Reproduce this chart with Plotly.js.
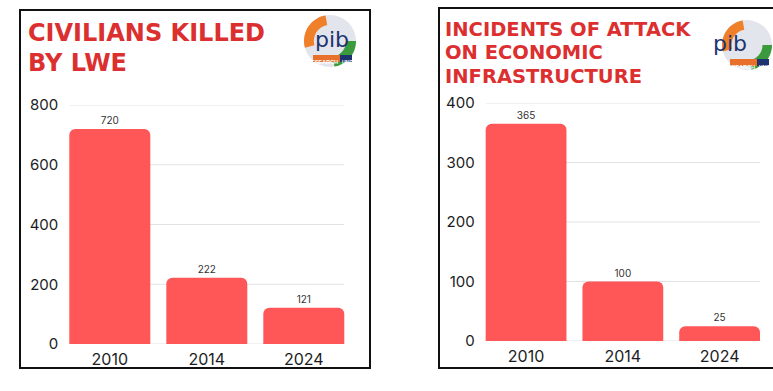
<!DOCTYPE html>
<html><head><meta charset="utf-8">
<script src="https://cdn.plot.ly/plotly-3.0.1.min.js"></script>
<style>html,body{margin:0;padding:0;background:#fff}#chart{width:773px;height:391px}</style>
</head><body><div id="chart"></div>
<script>
const years = ["2010", "2014", "2024"];
const civiliansKilled = [720, 222, 121];
const attackIncidents = [365, 100, 25];
const leftTicks = [0, 200, 400, 600, 800];
const rightTicks = [0, 100, 200, 300, 400];
const leftTitleLines = ["CIVILIANS KILLED", "BY LWE"];
const rightTitleLines = ["INCIDENTS OF ATTACK", "ON ECONOMIC", "INFRASTRUCTURE"];

const W = 773, H = 391;
const px = x => x / W, py = y => 1 - y / H;
const BAR = '#ff5757', RED = '#dc2f2f', INK = '#1c1c24';
const GAP = 0.165;
const tickFont = {family: 'Inter, "Open Sans", sans-serif', size: 15, color: INK};

const traces = [
  {type: 'bar', x: years, y: civiliansKilled, xaxis: 'x', yaxis: 'y',
   marker: {color: BAR}, text: civiliansKilled.map(String), textposition: 'outside',
   textfont: {family: 'Inter, sans-serif', size: 10, color: '#333'}, cliponaxis: false, hoverinfo: 'none'},
  {type: 'bar', x: years, y: attackIncidents, xaxis: 'x2', yaxis: 'y2',
   marker: {color: BAR}, text: attackIncidents.map(String), textposition: 'outside',
   textfont: {family: 'Inter, sans-serif', size: 10, color: '#333'}, cliponaxis: false, hoverinfo: 'none'}
];

function yax(domTop, domBot, ticks, anchor) {
  return {domain: [py(domBot), py(domTop)], range: [0, ticks[ticks.length - 1]], tickvals: ticks, anchor: anchor,
    showgrid: false, zeroline: false, showline: false, ticks: '', tickfont: tickFont,
    ticklabelstandoff: 2, fixedrange: true};
}
function xax(l, r, anchor) {
  return {type: 'category', domain: [px(l), px(r)], anchor: anchor, showgrid: false, zeroline: false, showline: false,
    ticks: '', tickfont: Object.assign({}, tickFont, {size: 16}), ticklabelstandoff: 4, fixedrange: true};
}

const shapes = [
  {type: 'rect', xref: 'paper', yref: 'paper', x0: px(20), x1: px(370), y0: py(368), y1: py(10),
   line: {color: '#111', width: 2}},
  {type: 'rect', xref: 'paper', yref: 'paper', x0: px(439), x1: px(800), y0: py(368), y1: py(8),
   line: {color: '#111', width: 2}}
];
function grid(ticks, xr, yr, n) {
  const half = (1 - GAP) / 2;
  ticks.forEach(v => shapes.push({type: 'line', layer: 'below', xref: xr, yref: yr,
    x0: -half, x1: n - 1 + half, y0: v, y1: v, line: {color: '#e2e2e2', width: 1}}));
}
grid(leftTicks, 'x', 'y', years.length);
grid(rightTicks, 'x2', 'y2', years.length);

const annotations = [];
function titleLines(lines, x, y0, step, size) {
  lines.forEach((t, i) => annotations.push({xref: 'paper', yref: 'paper', x: px(x), y: py(y0 + i * step),
    xanchor: 'left', yanchor: 'middle', showarrow: false, text: t,
    font: {family: '"DejaVu Sans", sans-serif', size: size, color: RED, weight: 700}}));
}
titleLines(leftTitleLines, 26, 33, 30, 24);
titleLines(rightTitleLines, 443, 29, 23.5, 19.5);

function arcPoly(cx, cy, rOut, rIn, a1, a2) {
  const pts = [];
  const n = 24;
  for (let i = 0; i <= n; i++) { const a = (a1 + (a2 - a1) * i / n) * Math.PI / 180;
    pts.push([cx + rOut * Math.cos(a), cy - rOut * Math.sin(a)]); }
  for (let i = n; i >= 0; i--) { const a = (a1 + (a2 - a1) * i / n) * Math.PI / 180;
    pts.push([cx + rIn * Math.cos(a), cy - rIn * Math.sin(a)]); }
  return 'M' + pts.map(p => px(p[0]).toFixed(5) + ',' + py(p[1]).toFixed(5)).join('L') + 'Z';
}
function logo(cx, cy, r) {
  shapes.push({type: 'circle', xref: 'paper', yref: 'paper', x0: px(cx - r), x1: px(cx + r),
    y0: py(cy + r), y1: py(cy - r), fillcolor: '#e3e5ec', line: {width: 0}});
  shapes.push({type: 'path', xref: 'paper', yref: 'paper', path: arcPoly(cx, cy, r, r * 0.62, 100, 195),
    fillcolor: '#f07f2a', line: {width: 0}});
  shapes.push({type: 'path', xref: 'paper', yref: 'paper', path: arcPoly(cx, cy, r, r * 0.62, -80, 0),
    fillcolor: '#3a9a3c', line: {width: 0}});
  shapes.push({type: 'rect', xref: 'paper', yref: 'paper', x0: px(cx - 17), x1: px(cx + 22),
    y0: py(cy + 21), y1: py(cy + 14), fillcolor: '#e8702a', line: {width: 0}});
  shapes.push({type: 'rect', xref: 'paper', yref: 'paper', x0: px(cx + 10), x1: px(cx + 22),
    y0: py(cy + 21), y1: py(cy + 14), fillcolor: '#1d3470', line: {width: 0}});
  annotations.push({xref: 'paper', yref: 'paper', x: px(cx + 2), y: py(cy - 1), yanchor: 'middle', showarrow: false,
    text: 'pib', font: {family: '"DejaVu Sans", sans-serif', size: 22, color: '#1d3470'}});
  annotations.push({xref: 'paper', yref: 'paper', x: px(cx + 9), y: py(cy + 17.5), xanchor: 'right',
    borderpad: 0, showarrow: false,
    text: 'RESEARCH', font: {family: '"Liberation Sans Narrow", "Liberation Sans", sans-serif', size: 5.5, color: '#fff', weight: 700}});
  annotations.push({xref: 'paper', yref: 'paper', x: px(cx + 11), y: py(cy + 17.5), xanchor: 'left',
    borderpad: 0, showarrow: false,
    text: 'UNIT', font: {family: '"Liberation Sans Narrow", "Liberation Sans", sans-serif', size: 5, color: '#fff', weight: 700}});
}
logo(330, 41, 26);
logo(747, 45, 25);

const layout = {
  width: W, height: H, margin: {l: 0, r: 0, t: 0, b: 0}, autosize: false,
  paper_bgcolor: '#fff', plot_bgcolor: 'rgba(0,0,0,0)', showlegend: false,
  bargap: GAP, barcornerradius: 6,
  xaxis: xax(61.3, 352.3, 'y'), yaxis: yax(105, 344, leftTicks, 'x'),
  xaxis2: xax(477.7, 768, 'y2'), yaxis2: yax(103, 341, rightTicks, 'x2'),
  shapes: shapes, annotations: annotations
};
Plotly.newPlot('chart', traces, layout, {staticPlot: true, displayModeBar: false});
</script></body></html>
